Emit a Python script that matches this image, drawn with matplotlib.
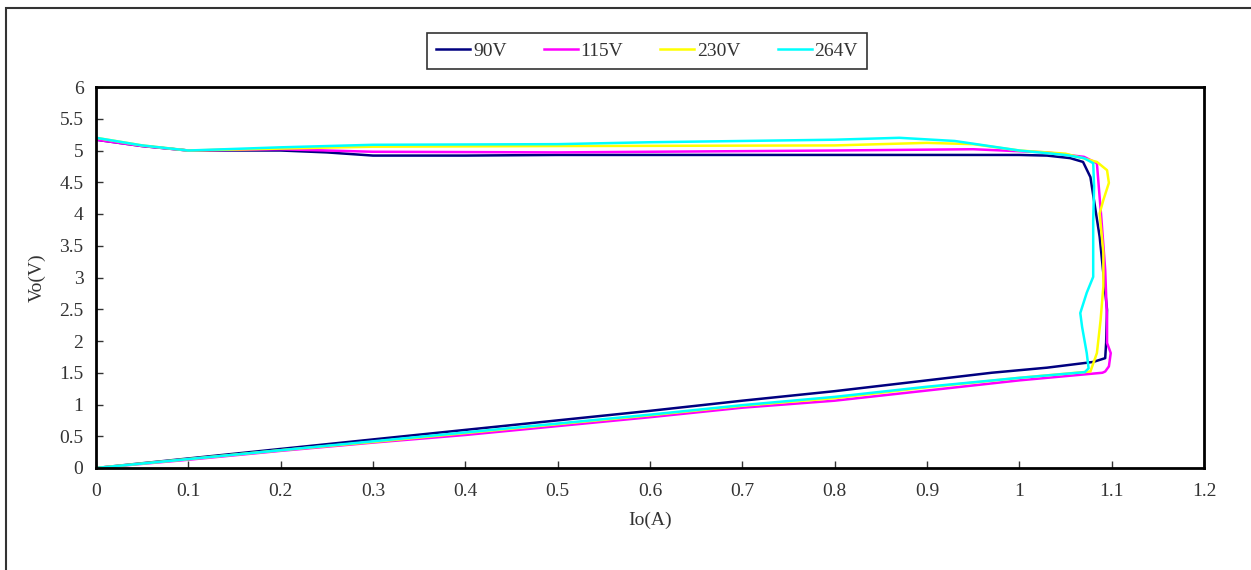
import numpy as np
import matplotlib
matplotlib.use('Agg')
import matplotlib.pyplot as plt
from matplotlib.patches import Rectangle

plt.rcParams['font.family'] = ['Liberation Serif', 'DejaVu Serif']

labels = ['90V', '115V', '230V', '264V']
colors = ['#000080', '#FF00FF', '#FFFF00', '#00FFFF']

# each curve: top branch (left->right), right side (top->bottom), bottom branch back to origin
io_90 = [0, 0.05, 0.1, 0.2, 0.25, 0.3, 0.4, 0.5, 0.7, 0.9, 1.0, 1.03, 1.055, 1.069,
         1.077, 1.087, 1.095, 1.094, 1.093, 1.08, 1.03, 0.97, 0.9, 0.8, 0.7, 0.6, 0.5,
         0.4, 0.3, 0.2, 0.1, 0]
vo_90 = [5.17, 5.07, 5.0, 5.0, 4.97, 4.92, 4.92, 4.93, 4.93, 4.93, 4.93, 4.92, 4.88, 4.82,
         4.58, 3.64, 2.49, 1.97, 1.73, 1.67, 1.58, 1.5, 1.38, 1.21, 1.06, 0.9, 0.75,
         0.6, 0.45, 0.3, 0.15, 0]

io_115 = [0, 0.05, 0.1, 0.2, 0.3, 0.5, 0.8, 0.95, 1.03, 1.07, 1.084, 1.089, 1.093, 1.095,
          1.095, 1.099, 1.097, 1.093, 1.09, 1.0, 0.9, 0.8, 0.7, 0.6, 0.5, 0.4, 0.3,
          0.2, 0.1, 0]
vo_115 = [5.17, 5.07, 5.0, 5.02, 4.98, 4.97, 5.0, 5.02, 4.97, 4.9, 4.8, 3.9, 3.12, 2.33,
          1.97, 1.81, 1.6, 1.52, 1.5, 1.38, 1.22, 1.06, 0.95, 0.8, 0.66, 0.52, 0.4,
          0.27, 0.13, 0]

io_230 = [0, 0.05, 0.1, 0.2, 0.3, 0.5, 0.8, 0.9, 0.95, 1.0, 1.05, 1.084, 1.095, 1.097,
          1.091, 1.087, 1.091, 1.091, 1.088, 1.084, 1.077, 1.0, 0.9, 0.8, 0.7, 0.6,
          0.5, 0.4, 0.3, 0.2, 0.1, 0]
vo_230 = [5.2, 5.08, 5.0, 5.03, 5.06, 5.07, 5.08, 5.12, 5.1, 5.0, 4.95, 4.82, 4.69, 4.49,
          4.22, 4.01, 3.39, 2.86, 2.33, 1.81, 1.52, 1.42, 1.27, 1.1, 0.98, 0.83,
          0.69, 0.55, 0.41, 0.28, 0.14, 0]

io_264 = [0, 0.05, 0.1, 0.2, 0.3, 0.5, 0.6, 0.8, 0.87, 0.93, 1.0, 1.05, 1.07, 1.08, 1.081,
          1.08, 1.08, 1.073, 1.066, 1.068, 1.073, 1.075, 1.071, 1.0, 0.9, 0.8, 0.7,
          0.6, 0.5, 0.4, 0.3, 0.2, 0.1, 0]
vo_264 = [5.2, 5.08, 5.0, 5.05, 5.09, 5.1, 5.13, 5.17, 5.2, 5.15, 5.0, 4.93, 4.88, 4.8, 4.43,
          3.9, 3.01, 2.76, 2.44, 2.22, 1.81, 1.57, 1.51, 1.42, 1.28, 1.12, 0.99,
          0.84, 0.7, 0.56, 0.42, 0.28, 0.14, 0]

series = [(io_90, vo_90), (io_115, vo_115), (io_230, vo_230), (io_264, vo_264)]

fig = plt.figure(figsize=(12.51, 5.70), dpi=100)
ax = fig.add_axes([96/1251, 102/570, (1204-96)/1251, (468-87)/570])

for (x, y), lab, c in zip(series, labels, colors):
    ax.plot(x, y, color=c, lw=1.8, label=lab, solid_joinstyle='round')

fs = 14
ax.set_xlim(0, 1.2)
ax.set_ylim(0, 6)
ax.set_xticks(np.arange(0, 1.21, 0.1))
ax.set_xticklabels(['0', '0.1', '0.2', '0.3', '0.4', '0.5', '0.6', '0.7', '0.8', '0.9', '1', '1.1', '1.2'])
ax.set_yticks(np.arange(0, 6.01, 0.5))
ax.set_yticklabels(['0', '0.5', '1', '1.5', '2', '2.5', '3', '3.5', '4', '4.5', '5', '5.5', '6'])
ax.tick_params(direction='in', length=5, width=1, labelsize=fs, colors='#333333',
               labelcolor='#333333')
ax.tick_params(axis='x', pad=11)
ax.tick_params(axis='y', pad=9)
for s in ax.spines.values():
    s.set_linewidth(2)
    s.set_color('black')

ax.set_xlabel('Io(A)', fontsize=fs, color='#333333', labelpad=8)
ax.set_ylabel('Vo(V)', fontsize=fs, color='#333333', labelpad=10)

leg = fig.legend(loc='center', bbox_to_anchor=(647/1251, 1 - 51/570), ncol=4,
                 fontsize=fs, frameon=True, fancybox=False, handlelength=1.75,
                 columnspacing=1.9, handletextpad=0.15, borderpad=0.45,
                 borderaxespad=0)
leg.get_frame().set_edgecolor('black')
leg.get_frame().set_linewidth(1.2)
for t in leg.get_texts():
    t.set_color('#333333')

# outer chart border
fig.patches.append(Rectangle((6/1251, -0.05), 1.2, 1.05 - 8/570, transform=fig.transFigure,
                             fill=False, edgecolor='#333333', lw=1.5))

fig.savefig('out.png', dpi=100)
